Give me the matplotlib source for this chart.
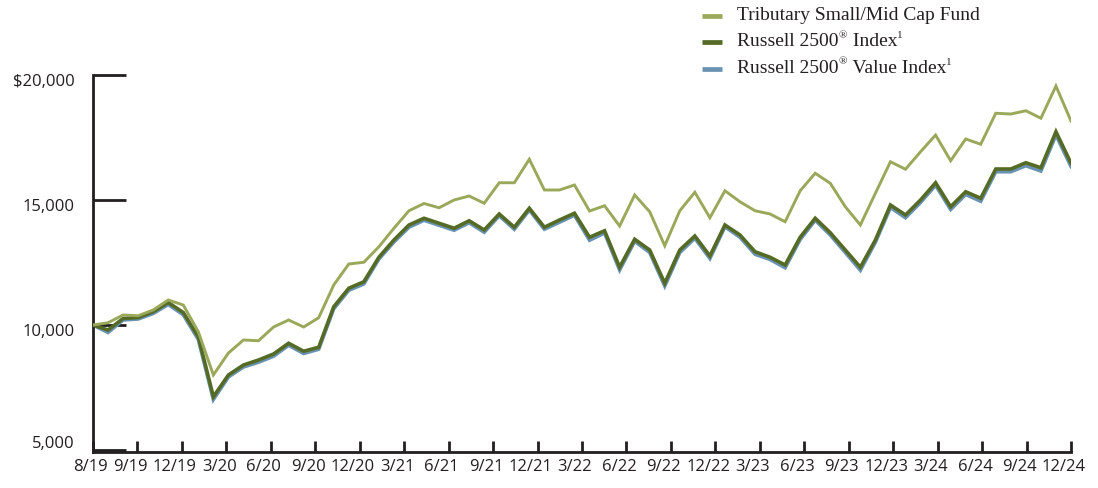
import matplotlib
matplotlib.use("Agg")
import matplotlib.pyplot as plt
import matplotlib.transforms as mtransforms
from matplotlib.lines import Line2D
import numpy as np

# ---- data (values of a $10,000 investment, month-end) ----
fund = [10000, 10090, 10400, 10370, 10600, 11000, 10800, 9730, 8000, 8880,
        9400, 9370, 9920, 10200, 9920, 10290, 11600, 12440, 12510, 13130,
        13870, 14570, 14860, 14690, 15000, 15160, 14870, 15690, 15690, 16630,
        15400, 15400, 15600, 14560, 14770, 13960, 15200, 14530, 13170, 14570,
        15310, 14290, 15370, 14930, 14570, 14440, 14130, 15370, 16070, 15670,
        14730, 14000, 15270, 16530, 16230, 16930, 17600, 16570, 17440, 17230,
        18470, 18440, 18570, 18270, 19560, 18160]
russell_2500 = [10000, 9800, 10260, 10300, 10530, 10900, 10500, 9530, 7130, 8000,
                8400, 8600, 8840, 9270, 8950, 9110, 10730, 11470, 11730, 12710,
                13400, 14000, 14270, 14070, 13870, 14170, 13800, 14440, 13910, 14670,
                13910, 14200, 14470, 13510, 13770, 12310, 13430, 13000, 11670, 13000,
                13560, 12760, 14000, 13600, 12930, 12710, 12400, 13510, 14270, 13690,
                13000, 12310, 13400, 14800, 14400, 15000, 15690, 14730, 15330, 15070,
                16240, 16240, 16490, 16290, 17730, 16470]
russell_2500_value = [10000, 9700, 10200, 10240, 10460, 10820, 10410, 9420, 7020, 7920,
                      8320, 8510, 8750, 9190, 8860, 9030, 10650, 11390, 11640, 12640,
                      13320, 13910, 14190, 13990, 13790, 14090, 13710, 14370, 13830, 14600,
                      13830, 14110, 14390, 13390, 13680, 12200, 13350, 12900, 11560, 12900,
                      13470, 12660, 13930, 13510, 12830, 12620, 12290, 13420, 14190, 13600,
                      12900, 12190, 13310, 14700, 14290, 14900, 15590, 14620, 15220, 14950,
                      16130, 16130, 16370, 16160, 17600, 16340]
x_labels = ["8/19", "9/19", "12/19", "3/20", "6/20", "9/20", "12/20", "3/21", "6/21",
            "9/21", "12/21", "3/22", "6/22", "9/22", "12/22", "3/23", "6/23", "9/23",
            "12/23", "3/24", "6/24", "9/24", "12/24"]
y_ticks = [5000, 10000, 15000, 20000]
y_labels = ["5,000", "10,000", "15,000", "$20,000"]
# legend labels as (text, is_superscript) pieces
series_names = [
    [("Tributary Small/Mid Cap Fund", False)],
    [("Russell 2500", False), ("\u00ae", True), (" Index", False), ("1", True)],
    [("Russell 2500", False), ("\u00ae", True), (" Value Index", False), ("1", True)],
]

C_FUND = "#9aa85a"
C_IDX = "#556b25"
C_VAL = "#6a93b3"
AXC = "#231f20"

W, H = 1098, 488
fig = plt.figure(figsize=(W / 100, H / 100), dpi=100)
ax = fig.add_axes([93 / W, (H - 452) / H, (1071 - 93) / W, (452 - 75) / H])

n = len(fund)
x = np.arange(n)
ax.plot(x, russell_2500_value, color=C_VAL, lw=2.6, solid_joinstyle="miter", zorder=2)
ax.plot(x, russell_2500, color=C_IDX, lw=2.6, solid_joinstyle="miter", zorder=3)
ax.plot(x, fund, color=C_FUND, lw=2.1, solid_joinstyle="miter", zorder=4)

ax.set_xlim(0, n - 1)
ax.set_ylim(4920, 20000)

for s in ["top", "right"]:
    ax.spines[s].set_visible(False)
for s in ["left", "bottom"]:
    ax.spines[s].set_linewidth(2.0)
    ax.spines[s].set_color(AXC)

xt = np.linspace(0, n - 1, len(x_labels))
ax.set_xticks(xt)
ax.set_xticklabels(x_labels)
ax.set_yticks(y_ticks)
ax.set_yticklabels(y_labels)

for lab in ax.get_xticklabels() + ax.get_yticklabels():
    lab.set_fontfamily("Open Sans")
    lab.set_fontsize(12)
    lab.set_color(AXC)

ax.tick_params(axis="x", direction="in", length=8, width=2.0, color=AXC, pad=5)
ax.tick_params(axis="y", direction="in", length=24, width=2.0, color=AXC, pad=13)

# small label offsets to mimic the reference placement
for i, lab in enumerate(ax.get_xticklabels()):
    dx = -3 if i == 0 else -7
    lab.set_transform(lab.get_transform() + mtransforms.ScaledTranslation(dx / 100, 0, fig.dpi_scale_trans))
for v, lab in zip(y_ticks, ax.get_yticklabels()):
    dy = 8 if v == 5000 else -5
    lab.set_transform(lab.get_transform() + mtransforms.ScaledTranslation(0, dy / 100, fig.dpi_scale_trans))

# legend drawn manually
renderer = fig.canvas.get_renderer()
leg_rows_y = [15.5, 42, 68.5]
for pieces, col, yy in zip(series_names, [C_FUND, C_IDX, C_VAL], leg_rows_y):
    fy = 1 - yy / H
    fig.add_artist(Line2D([702 / W, 722 / W], [fy, fy], color=col, lw=3.4,
                          solid_capstyle="butt", transform=fig.transFigure))
    xpx = 737.0
    for txt, sup in pieces:
        if sup:
            t = fig.text(xpx / W, fy + 6.5 / H, txt, family="Liberation Serif", size=8,
                         color=AXC, va="center", ha="left")
        else:
            t = fig.text(xpx / W, fy, txt, family="Liberation Serif", size=14,
                         color=AXC, va="center", ha="left")
        bb = t.get_window_extent(renderer=renderer)
        xpx += bb.width + (0.5 if sup else 0)

fig.savefig("out.png", dpi=100)
